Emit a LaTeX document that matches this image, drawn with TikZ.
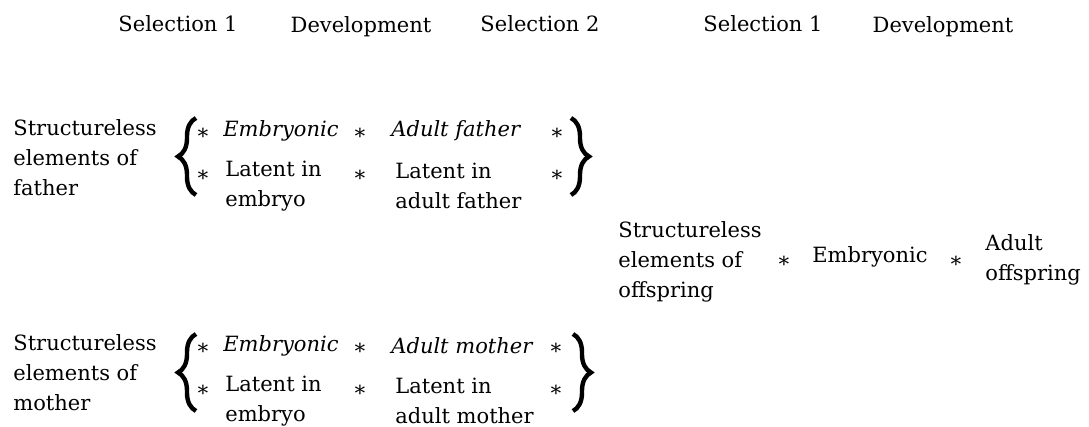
\documentclass[tikz,border=0pt]{standalone}
\usepackage{fontspec}
\setmainfont{DejaVu Serif}
\usepackage{tikz}
\usetikzlibrary{decorations.pathreplacing}

\begin{document}
\begin{tikzpicture}[x=0.5pt,y=-0.5pt,
    font=\fontsize{10.5}{15}\selectfont,
    every node/.style={inner sep=0pt},
    txt/.style={align=left,anchor=west},
    head/.style={anchor=base},
    brc/.style={decorate,decoration={brace,amplitude=9pt,aspect=0.5},line width=2.2pt}]
    \useasboundingbox (0,0) rectangle (1089,427);

    % Headings
    \node[head] (hsa) at (178,32) {Selection 1};
    \node[head] (hda) at (361,33) {Development};
    \node[head] (hsb) at (540,32) {Selection 2};
    \node[head] (hsc) at (763,32) {Selection 1};
    \node[head] (hdb) at (943,33) {Development};

    % Father
    \node[txt] (fa) at (13,158) {Structureless\\elements of\\father};
    \draw[brc] (196,195) -- (196,118);
    \node (fs1) at (203,134) {∗};
    \node[txt] (fe) at (223,131) {\textit{Embryonic}};
    \node (fs2) at (360,134) {∗};
    \node[txt] (fad) at (391,131) {\textit{Adult father}};
    \node (fs3) at (557,134) {∗};
    \node (fs4) at (203,176) {∗};
    \node[txt] (fle) at (225,186) {Latent in\\embryo};
    \node (fs5) at (360,176) {∗};
    \node[txt] (fla) at (395,186) {Latent in\\adult father};
    \node (fs6) at (557,176) {∗};
    \draw[brc] (571,118) -- (571,195);

    % Mother
    \node[txt] (ma) at (13,373) {Structureless\\elements of\\mother};
    \draw[brc] (196,411) -- (196,334);
    \node (ms1) at (203,349) {∗};
    \node[txt] (me) at (223,346) {\textit{Embryonic}};
    \node (ms2) at (360,349) {∗};
    \node[txt] (mad) at (391,346) {\textit{Adult mother}};
    \node (ms3) at (556,349) {∗};
    \node (ms4) at (203,391) {∗};
    \node[txt] (mle) at (225,401) {Latent in\\embryo};
    \node (ms5) at (360,391) {∗};
    \node[txt] (mla) at (395,401) {Latent in\\adult mother};
    \node (ms6) at (556,391) {∗};
    \draw[brc] (573,334) -- (573,411);

    % Offspring
    \node[txt] (oa) at (618,262) {Structureless\\elements of\\offspring};
    \node (os1) at (784,262) {∗};
    \node[txt] (oe) at (812,257) {Embryonic};
    \node (os2) at (956,262) {∗};
    \node[txt] (oad) at (985,260) {Adult\\offspring};
\end{tikzpicture}
\end{document}
